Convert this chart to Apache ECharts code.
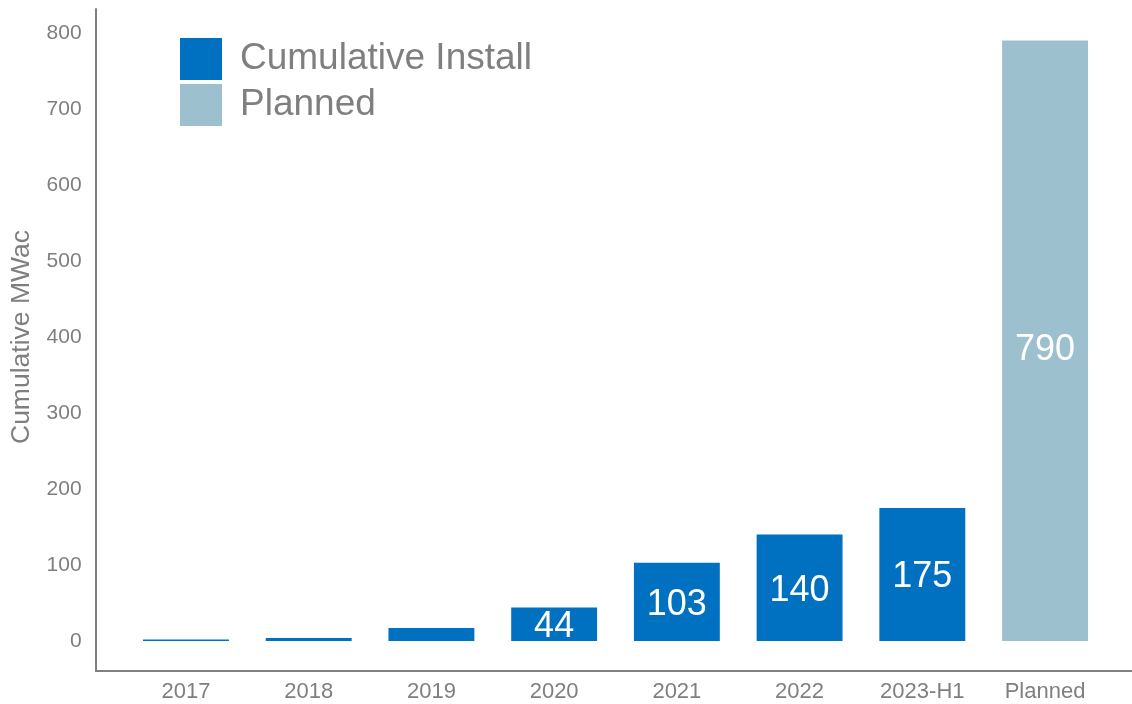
<!DOCTYPE html>
<html>
<head>
<meta charset="utf-8">
<script src="https://cdn.jsdelivr.net/npm/echarts@6/dist/echarts.min.js"></script>
<style>
  html, body { margin: 0; padding: 0; background: #ffffff; }
  #chart { width: 1132px; height: 704px; }
</style>
</head>
<body>
<div id="chart"></div>
<script>
// Categories and values (MWac, cumulative)
const categories = ['2017', '2018', '2019', '2020', '2021', '2022', '2023-H1', 'Planned'];
const installed = [2, 4, 17, 44, 103, 140, 175, null];
const planned = [null, null, null, null, null, null, null, 790];
// Values printed on the bars
const labelled = ['44', '103', '140', '175', '790'];

const GRAY = '#7f7f7f';
const chart = echarts.init(document.getElementById('chart'));

function barLabel(params) {
  const v = String(params.value);
  return labelled.indexOf(v) >= 0 ? v : '';
}

chart.setOption({
  animation: false,
  textStyle: { fontFamily: 'Liberation Sans, Arial, sans-serif' },
  legend: {
    orient: 'vertical',
    left: 175,
    top: 33,
    itemWidth: 42,
    itemHeight: 42,
    itemGap: 4,
    icon: 'rect',
    textStyle: { color: GRAY, fontSize: 37, padding: [0, 0, 0, 13] },
    data: ['Cumulative Install', 'Planned']
  },
  grid: [
    // plotting area for the bars
    { left: 124.6, right: 25.6, top: 33, bottom: 63 },
    // outer frame that carries the two axis lines
    { left: 96, right: 0, top: 9, bottom: 33 }
  ],
  xAxis: [
    {
      type: 'category',
      gridIndex: 0,
      data: categories,
      axisLine: { show: false },
      axisTick: { show: false },
      axisLabel: { color: GRAY, fontSize: 22, margin: 40 }
    },
    {
      type: 'value',
      gridIndex: 1,
      min: 0, max: 1,
      axisLine: { show: true, lineStyle: { color: GRAY, width: 2 } },
      axisTick: { show: false },
      axisLabel: { show: false },
      splitLine: { show: false }
    }
  ],
  yAxis: [
    {
      type: 'value',
      gridIndex: 0,
      min: 0, max: 800, interval: 100,
      name: 'Cumulative MWac',
      nameLocation: 'middle',
      nameGap: 88,
      nameTextStyle: { color: GRAY, fontSize: 26.5 },
      axisLine: { show: false },
      axisTick: { show: false },
      splitLine: { show: false },
      axisLabel: { color: GRAY, fontSize: 21, margin: 43 }
    },
    {
      type: 'value',
      gridIndex: 1,
      min: 0, max: 1,
      axisLine: { show: true, lineStyle: { color: GRAY, width: 2 } },
      axisTick: { show: false },
      axisLabel: { show: false },
      splitLine: { show: false }
    }
  ],
  series: [
    {
      name: 'Cumulative Install',
      type: 'bar',
      xAxisIndex: 0, yAxisIndex: 0,
      data: installed,
      barWidth: '70%',
      barGap: '-100%',
      itemStyle: { color: '#0070c0' },
      label: {
        show: true, position: 'inside', offset: [0, 3],
        color: '#ffffff', fontSize: 36, formatter: barLabel
      }
    },
    {
      name: 'Planned',
      type: 'bar',
      xAxisIndex: 0, yAxisIndex: 0,
      data: planned,
      barWidth: '70%',
      barGap: '-100%',
      itemStyle: { color: '#9dc0ce' },
      label: {
        show: true, position: 'inside', offset: [0, 9],
        color: '#ffffff', fontSize: 36, formatter: barLabel
      }
    }
  ]
});
</script>
</body>
</html>
